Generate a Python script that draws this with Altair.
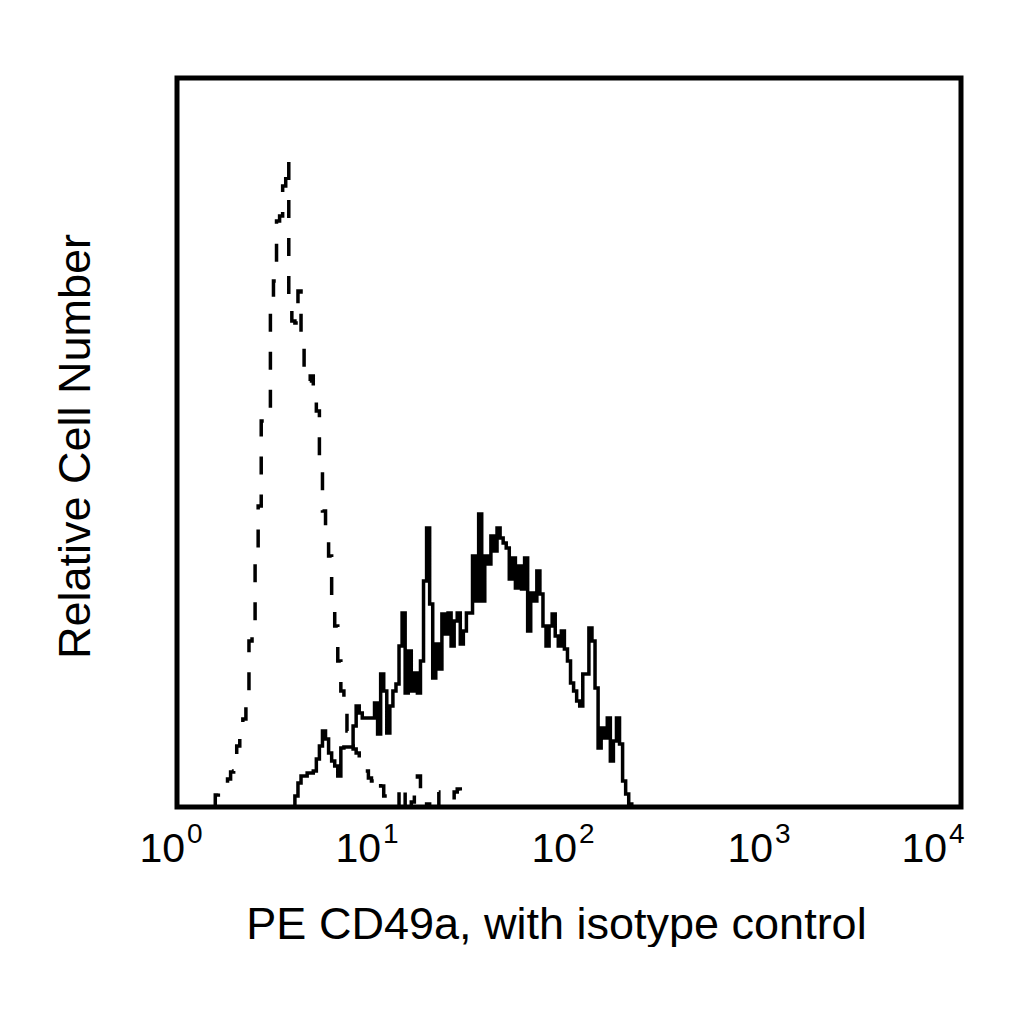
import altair as alt
import pandas as pd

# histogram counts per channel (256 channels over 4 decades)
solid_start = 38
solid_counts = [0, 11, 24, 31, 31, 34, 34, 36, 48, 61, 76, 68, 54, 46, 41, 31,
                59, 60, 60, 60, 81, 101, 94, 89, 89, 89, 89, 104, 73, 133, 116, 74,
                101, 116, 123, 161, 194, 114, 156, 116, 134, 114, 146, 226, 279, 203, 129, 163,
                138, 193, 173, 194, 161, 186, 194, 163, 176, 194, 194, 251, 206, 293, 206, 251,
                243, 271, 256, 279, 269, 264, 259, 228, 249, 219, 241, 218, 249, 176, 214, 206,
                236, 213, 181, 161, 181, 193, 171, 161, 176, 158, 146, 124, 116, 106, 101, 133,
                133, 179, 166, 119, 59, 79, 69, 89, 46, 66, 89, 63, 26, 13, 3, 0]

# isotype control
dashed_start = 12
dashed_counts = [0, 12, 16, 20, 24, 28, 35, 36, 61, 78, 88, 101, 166, 186, 246, 301,
                 386, 391, 396, 506, 526, 586, 591, 621, 646, 506, 486, 484, 516, 466, 436, 426,
                 431, 406, 396, 346, 296, 276, 251, 206, 181, 146, 116, 94, 76, 61, 58, 54,
                 46, 41, 36, 29, 26, 31, 28, 21, 11, 0, 0, 0, 0, 16, 0, 16,
                 0, 5, 26, 31, 10, 0, 3, 0, 0, 15, 0, 0, 0, 0, 0, 15,
                 18, 0]

decade_channels = [0, 64, 128, 192, 256]
decade_base = ["10", "10", "10", "10", "10"]
decade_exponents = ["0", "1", "2", "3", "4"]

solid = pd.DataFrame({
    "channel": list(range(solid_start, solid_start + len(solid_counts))),
    "count": solid_counts,
})
dashed = pd.DataFrame({
    "channel": list(range(dashed_start, dashed_start + len(dashed_counts))),
    "count": dashed_counts,
})
decades = pd.DataFrame({
    "channel": decade_channels,
    "base": decade_base,
    "exp": decade_exponents,
})

FONT = "Liberation Sans"

x_enc = alt.X(
    "channel:Q",
    scale=alt.Scale(domain=[0, 256], nice=False, zero=False),
    axis=alt.Axis(
        title="PE CD49a, with isotype control",
        labels=False, ticks=False, domain=False, grid=False,
        titleFont=FONT, titleFontSize=45, titleFontWeight="normal", titleColor="black",
        titleBaseline="alphabetic", titleAlign="center", titleX=379, titleY=131,
    ),
)
y_enc = alt.Y(
    "count:Q",
    scale=alt.Scale(domain=[0, 729], nice=False),
    axis=alt.Axis(
        title="Relative Cell Number",
        labels=False, ticks=False, domain=False, grid=False,
        titleFont=FONT, titleFontSize=45, titleFontWeight="normal", titleColor="black",
        titleBaseline="alphabetic", titleAlign="center", titleAngle=270,
        titleX=-88, titleY=368,
    ),
)

solid_line = alt.Chart(solid).mark_line(
    interpolate="step", color="black", strokeWidth=3.5
).encode(x=x_enc, y=y_enc)

dashed_line = alt.Chart(dashed).mark_line(
    interpolate="step", color="black", strokeWidth=3.5, strokeDash=[18, 20]
).encode(x=x_enc, y=y_enc)

# decade labels 10^n drawn as base + superscript
base_text = alt.Chart(decades).transform_filter("datum.channel < 256").mark_text(
    align="right", baseline="alphabetic", dx=8, font=FONT, fontSize=41, color="black"
).encode(x=x_enc, y=alt.value(784), text="base:N")

exp_text = alt.Chart(decades).transform_filter("datum.channel < 256").mark_text(
    align="left", baseline="alphabetic", dx=10, font=FONT, fontSize=28, color="black"
).encode(x=x_enc, y=alt.value(765), text="exp:N")

last_base = alt.Chart(decades).transform_filter("datum.channel == 256").mark_text(
    align="right", baseline="alphabetic", dx=-14, font=FONT, fontSize=41, color="black"
).encode(x=x_enc, y=alt.value(784), text="base:N")

last_exp = alt.Chart(decades).transform_filter("datum.channel == 256").mark_text(
    align="left", baseline="alphabetic", dx=-12, font=FONT, fontSize=28, color="black"
).encode(x=x_enc, y=alt.value(765), text="exp:N")

chart = alt.layer(
    dashed_line, solid_line, base_text, exp_text, last_base, last_exp
).properties(
    width=784,
    height=729,
    autosize=alt.AutoSizeParams(type="none"),
    padding={"left": 169, "top": 70, "right": 55, "bottom": 140},
    background="white",
).configure_view(
    stroke="black",
    strokeWidth=5,
)

chart.save("out.html", embed_options={"renderer": "svg", "actions": False})
